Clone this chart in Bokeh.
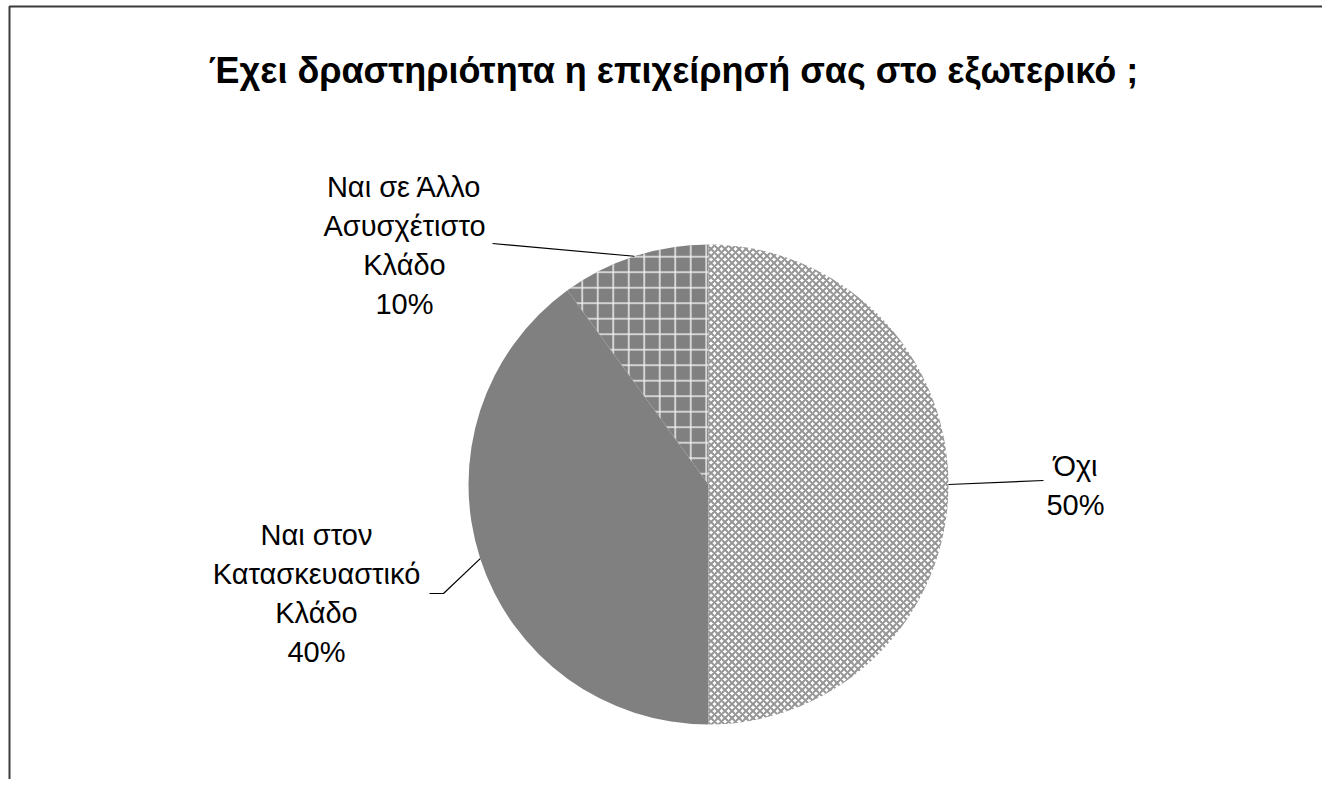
import numpy as np
from bokeh.plotting import figure
from bokeh.models import Range1d
from bokeh.core.properties import value
from bokeh.embed import file_html
from bokeh.resources import INLINE

# ---- data ----
title = "Έχει δραστηριότητα η επιχείρησή σας στο εξωτερικό ;"
categories = ["Όχι", "Ναι στον Κατασκευαστικό Κλάδο", "Ναι σε Άλλο Ασυσχέτιστο Κλάδο"]
label_lines = [["Όχι"], ["Ναι στον", "Κατασκευαστικό", "Κλάδο"], ["Ναι σε Άλλο", "Ασυσχέτιστο", "Κλάδο"]]
values = [50, 40, 10]

# ---- layout (page pixels; converted to data with y up) ----
W, H = 1322, 779
def X(xp):
    return xp
def Y(yp):
    return H - yp

cx, cy, R = X(708), Y(484), 240
FONT = "Liberation Sans"

p = figure(width=W, height=H, output_backend="svg", toolbar_location=None,
           x_range=Range1d(0, W), y_range=Range1d(0, H), min_border=0)
p.axis.visible = False
p.grid.visible = False
p.outline_line_color = None
p.background_fill_color = "white"
p.border_fill_color = "white"

# frame lines (top & left only, as in reference)
p.line([X(9), X(9), W + 20], [-5, Y(6), Y(6)], line_color="#3a3a3a", line_width=2)

# wedges, clockwise from 12 o'clock
total = float(sum(values))
cum = np.concatenate([[0], np.cumsum(values)]) / total
ends = np.pi / 2 - cum[:-1] * 2 * np.pi
starts = np.pi / 2 - cum[1:] * 2 * np.pi
mids = (starts + ends) / 2

styles = [
    dict(fill_color="white", hatch_pattern="diagonal_cross", hatch_color="#959595",
         hatch_scale=7, hatch_weight=2),
    dict(fill_color="#808080"),
    dict(fill_color="#808080", hatch_pattern="cross", hatch_color="#eeeeee",
         hatch_scale=15.5, hatch_weight=1.5),
]
for i in range(3):
    p.wedge(x=cx, y=cy, radius=R, start_angle=starts[i], end_angle=ends[i],
            line_color=None, **styles[i])

# labels: (anchor page center x, first line page y), leader elbow/end in page px
label_pos = [(1075, 465), (316, 534), (404, 186)]
leader_pts = [[(1043, 480)], [(443, 593), (429, 593)], [(492, 243)]]
line_gap = 39

for i in range(3):
    lines = label_lines[i] + [f"{round(values[i] / total * 100)}%"]
    lx, ly = label_pos[i]
    xs = [X(lx)] * len(lines)
    ys = [Y(ly + k * line_gap) for k in range(len(lines))]
    p.text(x=xs, y=ys, text=lines, text_align="center", text_baseline="middle",
           text_font=value(FONT), text_font_size="29px", text_color="black")
    sx = cx + R * np.cos(mids[i])
    sy = cy + R * np.sin(mids[i])
    lxs = [sx] + [X(a) for a, b in leader_pts[i]]
    lys = [sy] + [Y(b) for a, b in leader_pts[i]]
    p.line(lxs, lys, line_color="black", line_width=1.2)

p.text(x=[X(673)], y=[Y(70)], text=[title], text_align="center", text_baseline="middle",
       text_font=value(FONT), text_font_size="36px", text_font_style="bold",
       text_color="black")

open("out.html", "w").write(file_html(p, INLINE))
